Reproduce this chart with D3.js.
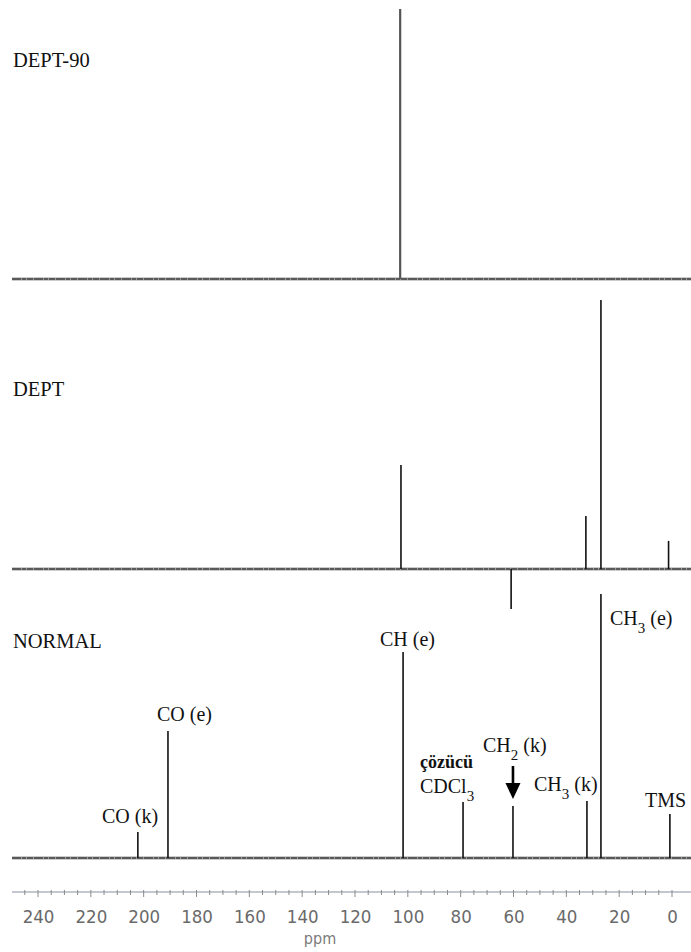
<!DOCTYPE html>
<html>
<head>
<meta charset="utf-8">
<script src="https://cdn.jsdelivr.net/npm/d3@7"></script>
<style>
  html, body { margin: 0; padding: 0; background: #fff; }
  svg { display: block; }
</style>
</head>
<body>
<svg id="chart" width="691" height="952"></svg>
<script>
// 13C NMR spectra: DEPT-90, DEPT and normal (broadband decoupled)
// Shift in ppm, intensity in % of the tallest line of the set

const dept90Shift = [102.9];
const dept90Int   = [100];

const deptShift = [102.6, 60.9, 32.6, 26.9, 1.3];
const deptInt   = [38.5, -14.8, 19.6, 99.6, 10.4];

const normalShift = [202.2, 190.8, 101.8, 79.1, 60.2, 32.2, 26.9, 0.8];
const normalInt   = [9.6, 47.0, 76.3, 20.7, 19.3, 21.1, 97.8, 16.3];

const tickValues = [240, 220, 200, 180, 160, 140, 120, 100, 80, 60, 40, 20, 0];
const panelTitles = ["DEPT-90", "DEPT", "NORMAL"];

const svg = d3.select("#chart");
const W = 691;

// shared chemical-shift scale (ppm decreases to the right)
const x = d3.scaleLinear().domain([240, 0]).range([38, 672]);
const xStart = x.invert(12), xEnd = x.invert(W);

const panels = [
  { title: panelTitles[0], shift: dept90Shift, inten: dept90Int, base: 279, peakColor: "#555", peakWidth: 2.2 },
  { title: panelTitles[1], shift: deptShift,   inten: deptInt,   base: 569, peakColor: "#111", peakWidth: 1.6 },
  { title: panelTitles[2], shift: normalShift, inten: normalInt, base: 858, peakColor: "#111", peakWidth: 1.6 }
];
const titleY = [67, 396, 648];
const serif = "'Liberation Serif', 'Times New Roman', serif";

panels.forEach((p, i) => {
  const y = d3.scaleLinear().domain([0, 100]).range([p.base, p.base - 270]);
  const g = svg.append("g");

  // baseline (slightly soft, like a recorder trace)
  g.append("line")
    .attr("x1", x(xStart)).attr("x2", x(xEnd))
    .attr("y1", y(0)).attr("y2", y(0))
    .attr("stroke", "#9a9a9a").attr("stroke-width", 3);
  g.append("line")
    .attr("x1", x(xStart)).attr("x2", x(xEnd))
    .attr("y1", y(0)).attr("y2", y(0))
    .attr("stroke", "#444").attr("stroke-width", 1.4)
    .attr("stroke-dasharray", "9,1,4,1,6,1");

  // stick peaks
  g.selectAll("line.peak")
    .data(p.shift.map((s, k) => ({ s, v: p.inten[k] })))
    .join("line")
    .attr("class", "peak")
    .attr("x1", d => x(d.s)).attr("x2", d => x(d.s))
    .attr("y1", y(0)).attr("y2", d => y(d.v))
    .attr("stroke", p.peakColor).attr("stroke-width", p.peakWidth);

  g.append("text")
    .attr("x", 13).attr("y", titleY[i])
    .attr("font-family", serif)
    .attr("font-size", 20.5).attr("fill", "#111")
    .text(p.title);
});

// peak assignments in the normal spectrum
const labels = [
  { x: 102, y: 823, parts: [["CO (k)"]] },
  { x: 157, y: 721, parts: [["CO (e)"]] },
  { x: 380, y: 646, parts: [["CH (e)"]] },
  { x: 610, y: 625, parts: [["CH"], ["3", "sub"], [" (e)"]] },
  { x: 483, y: 752, parts: [["CH"], ["2", "sub"], [" (k)"]] },
  { x: 420, y: 768, parts: [["çözücü"]], size: 18, weight: 600 },
  { x: 420, y: 793, parts: [["CDCl"], ["3", "sub"]] },
  { x: 534, y: 791, parts: [["CH"], ["3", "sub"], [" (k)"]] },
  { x: 645, y: 807, parts: [["TMS"]] }
];

labels.forEach(l => {
  const t = svg.append("text")
    .attr("x", l.x).attr("y", l.y)
    .attr("font-family", serif)
    .attr("font-size", l.size || 20)
    .attr("font-weight", l.weight || 400)
    .attr("fill", "#111");
  l.parts.forEach(([s, kind]) => {
    const ts = t.append("tspan").text(s);
    if (kind === "sub") ts.attr("font-size", 15).attr("dy", 8);
    else if (t.selectAll("tspan").size() > 1) ts.attr("dy", -8);
  });
});

// arrow pointing at the CH2 (k) line
const ax = x(normalShift[4]);
svg.append("line")
  .attr("x1", ax).attr("x2", ax).attr("y1", 766).attr("y2", 785)
  .attr("stroke", "#000").attr("stroke-width", 2.6);
svg.append("path")
  .attr("d", `M${ax - 7.5},783 L${ax + 7.5},783 L${ax},799 Z`)
  .attr("fill", "#000");

// ppm axis
const axisY = 892;
const axisG = svg.append("g").attr("transform", `translate(0,${axisY})`);
axisG.append("line")
  .attr("x1", x(xStart)).attr("x2", x(xEnd))
  .attr("stroke", "#8a90a0").attr("stroke-width", 1.2);

const minor = d3.range(245, -5, -5);
axisG.selectAll("line.minor")
  .data(minor)
  .join("line")
  .attr("class", "minor")
  .attr("x1", d => x(d)).attr("x2", d => x(d))
  .attr("y1", -2).attr("y2", d => d % 20 === 0 ? 5 : 3)
  .attr("stroke", "#8a8a8a").attr("stroke-width", 1);

const axis = d3.axisBottom(x).tickValues(tickValues).tickSize(0).tickPadding(0);
const ag = svg.append("g").attr("transform", `translate(0,${axisY})`).call(axis);
ag.select(".domain").remove();
ag.selectAll("text")
  .attr("y", 31).attr("dy", 0)
  .attr("font-family", "'Liberation Sans Narrow', 'DejaVu Sans Condensed', 'Roboto', sans-serif")
  .attr("font-size", 18.5)
  .attr("fill", "#6a6a6a");

svg.append("text")
  .attr("x", 320).attr("y", 944)
  .attr("text-anchor", "middle")
  .attr("font-family", "'Liberation Sans Narrow', 'DejaVu Sans Condensed', sans-serif")
  .attr("font-size", 16)
  .attr("fill", "#7a7a7a")
  .text("ppm");
</script>
</body>
</html>
